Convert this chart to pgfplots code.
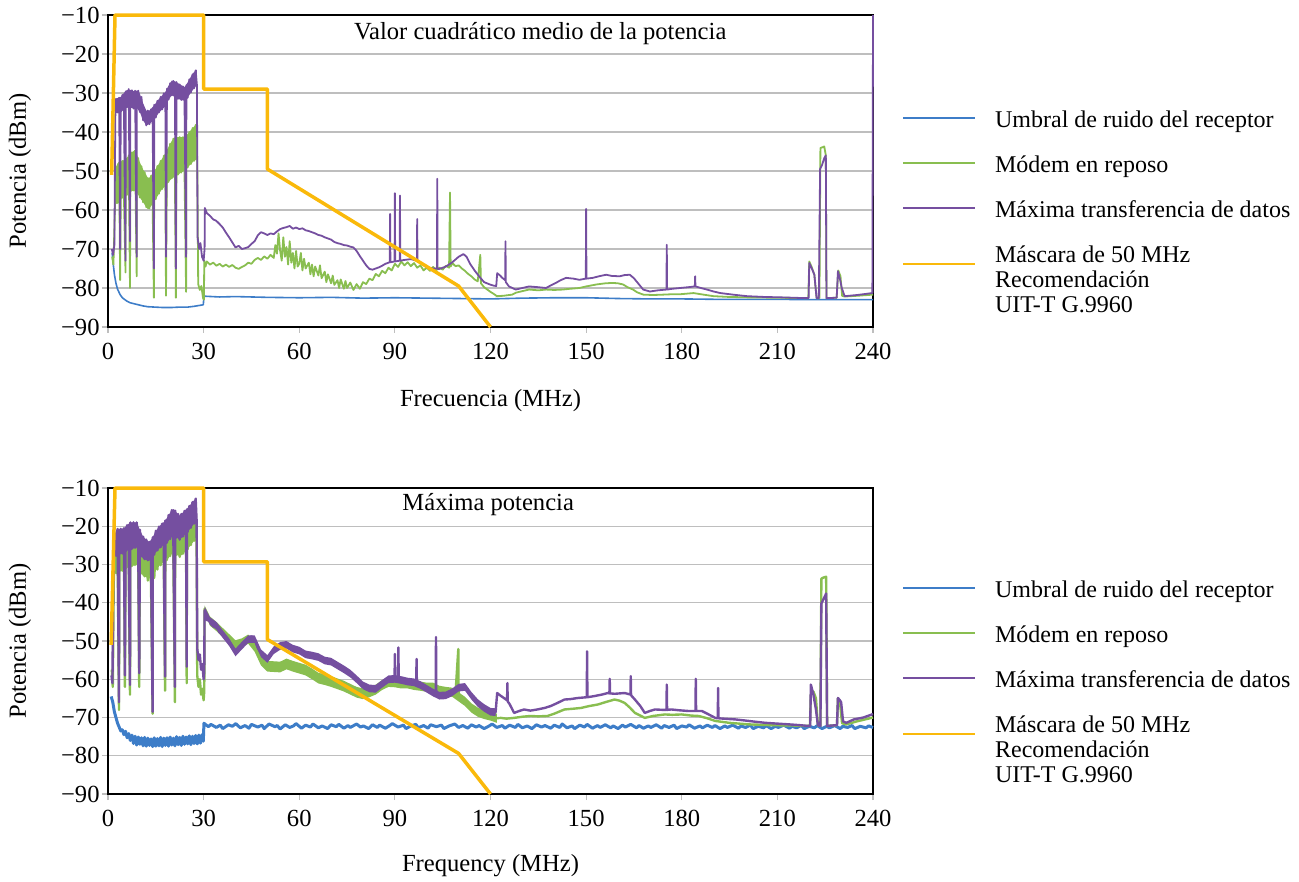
\documentclass[border=0pt]{standalone}
\usepackage{pgfplots}
\pgfplotsset{compat=1.18}
\usepackage{fontspec}
\setmainfont{Liberation Serif}
\definecolor{cblue}{RGB}{61,125,200}
\definecolor{cgreen}{RGB}{137,190,80}
\definecolor{cpurple}{RGB}{117,79,160}
\definecolor{cmask}{RGB}{250,185,10}
\definecolor{gridc}{RGB}{190,190,190}
\pgfplotsset{
  spec/.style={
    scale only axis, width=382.5pt,
    xmin=0, xmax=240, ymin=-90, ymax=-10,
    xtick={0,30,...,240}, xticklabels={0,30,60,90,120,150,180,210,240},
    ytick={-90,-80,...,-10}, yticklabels={−90,−80,−70,−60,−50,−40,−30,−20,−10},
    tick align=outside, xtick pos=bottom, ytick pos=left,
    major tick length=3pt,
    tick style={gridc, line width=0.6pt},
    ymajorgrids, grid style={gridc, line width=0.6pt},
    axis line style={black, line width=0.8pt},
    clip=false,
    every axis plot/.append style={line join=round},
    ticklabel style={font=\fontsize{12.3}{12.8}\selectfont},
    yticklabel style={inner sep=1pt},
    xticklabel style={inner sep=5pt},
    label style={font=\fontsize{12.3}{12.8}\selectfont},
    ylabel={Potencia (dBm)},
    ylabel style={at={(axis description cs:-0.115,0.5)}, anchor=center},
    legend cell align=left,
    legend style={draw=none, fill=none, inner sep=0pt, anchor=north west,
      font=\fontsize{12}{12.5}\selectfont, row sep=10.5pt,
      nodes={text height=9pt, text depth=3pt, inner sep=0pt},
      cells={anchor=base west},
      /tikz/every odd column/.append style={column sep=9.5pt}},
    legend image code/.code={\draw[#1, line width=1pt] (0pt,4.5pt) -- (36pt,4.5pt);},
    band/.style={draw=none, forget plot},
    masklegend/.style={legend image code/.code={\draw[#1, line width=1pt] (0pt,-1pt) -- (36pt,-1pt);}},
  },
}
\begin{document}
\begin{tikzpicture}
\useasboundingbox (0,0) rectangle (649.5pt,441pt);
% ---------------- TOP ----------------
\begin{axis}[spec, at={(54pt,277.5pt)}, anchor=south west, height=156pt,
  xlabel={Frecuencia (MHz)},
  xlabel style={at={(axis description cs:0.5,-0.236)}, anchor=center},
  legend style={at={(rel axis cs:1.0375,0.700)}}]
\addplot[cblue, line width=0.8pt] coordinates {
(1.3,-71) (1.6,-73.5) (2,-76.5) (2.5,-78.8) (3,-80.3) (3.8,-81.7) (4.5,-82.5) (5.3,-83) (6,-83.4) (7,-83.8) (8,-84) (9.5,-84.3) (11,-84.6) (12.5,-84.8) (14.7,-84.9) (17,-85) (20,-85) (22.5,-84.9) (25,-84.9) (27,-84.7) (29.9,-84.3)
(30.1,-82.1) (35,-82.3) (40,-82.2) (50,-82.4) (60,-82.5) (70,-82.4) (80,-82.6) (90,-82.5) (100,-82.6) (110,-82.7) (120,-82.8) (130,-82.6) (140,-82.5) (150,-82.5) (160,-82.7) (170,-82.8) (180,-82.8) (190,-82.9) (200,-82.9) (210,-82.9) (220,-83) (230,-83) (240,-83)};
\addlegendentry{Umbral de ruido del receptor}
\addplot[band, fill=cgreen] coordinates {
(2.5,-49) (3,-48) (4,-47.6) (5,-47.2) (6,-46.5) (7,-45.6) (8,-44.9) (8.5,-44.7) (9,-45.7) (10,-47.8) (11,-49.6) (12,-51) (12.5,-51.8) (13,-51.7) (14,-50.6) (15,-49.4) (16,-48.1) (17,-46.8) (18,-45.4) (19,-43.8) (20,-42.3) (21,-41.3) (22,-41.3) (23,-41.3) (24,-41.3) (25,-40.5) (26,-39.5) (27,-38.6) (28,-38)
(28,-47) (27,-47.4) (26,-48.2) (25,-49.1) (24,-49.9) (23,-50.4) (22,-50.9) (21,-51.5) (20,-51.9) (19,-52.8) (18,-53.9) (17,-54.6) (16,-55.8) (15,-57.2) (14,-58.4) (13,-59.6) (12.5,-59.8) (12,-59.3) (11,-58) (10,-56.8) (9,-55.5) (8,-55) (7,-55.4) (6,-56.1) (5,-56.7) (4,-57.4) (3,-58.2) (2.5,-58.5)};
\addplot[cgreen, line width=0.9pt] coordinates {
(1.3,-72) (1.7,-74) (2.1,-62) (2.5,-49) (3.0,-58.2) (3.5,-47.8) (3.8,-78) (4.0,-57.4) (4.5,-47.4) (5.0,-56.7) (5.5,-76) (5.55,-47) (6.0,-56.1) (6.5,-46) (6.9,-80) (7.0,-55.4) (7.5,-45.2) (8.0,-55) (8.5,-44.7) (9.0,-77) (9.05,-55.5) (9.5,-46.7) (10.0,-56.8) (10.5,-48.8) (11.0,-58) (11.5,-50.3) (12.0,-59.3) (12.5,-51.8) (13.0,-59.6) (13.5,-51.2) (14.0,-58.4) (14.4,-82.5) (14.5,-50) (15.0,-57.2) (15.5,-48.7) (16.0,-55.8) (16.5,-47.4) (17.0,-54.6) (17.5,-46.1) (18.0,-53.9) (18.2,-82) (18.5,-44.6) (19.0,-52.8) (19.5,-43) (20.0,-51.9) (20.5,-41.7) (21.0,-51.5) (21.3,-82.5) (21.5,-41.3) (22.0,-50.9) (22.5,-41.3) (23.0,-50.4) (23.5,-41.3) (24.0,-49.9) (24.5,-81) (24.6,-41) (25.0,-49.1) (25.5,-40) (26.0,-48.2) (26.5,-39) (27.0,-47.4) (27.5,-38.2) (28.0,-47) (28.3,-79) (28.8,-80.5) (29.3,-79.5) (29.8,-82.5) (30.1,-83)
(30.2,-73) (30.6,-74.5) (31,-73.2) (32,-74) (33,-73.5) (34,-74.3) (35,-73.8) (36,-74.5) (37,-74) (38,-74.6) (39,-74.1) (40,-74.8) (41,-75.1) (42,-74.6) (43,-74.2) (44,-73.5) (45,-73.8) (46,-72.8) (47,-72.3) (48,-72.8) (49,-71.9) (50,-72.5) (51,-71.5) (52,-72.3) (52.5,-69) (53,-71.2) (53.5,-66) (54,-70.4) (54.5,-73) (55,-67) (55.5,-72) (56,-69.5) (56.5,-74) (57,-68) (57.5,-73.5) (58,-71) (58.5,-75) (59,-70.5) (59.5,-74.5) (60,-73.8) (60.5,-71) (61,-75.5) (61.5,-72.5) (62,-75) (63,-73.5) (63.5,-76.5) (64,-74) (64.5,-77) (65,-74.5) (66,-76.8) (66.5,-74.2) (67,-77.5) (68,-75.8) (68.5,-78.5) (69,-76.5) (70,-78.8) (70.5,-76.8) (71,-79.2) (72,-78) (72.5,-80) (73,-77.8) (74,-80.2) (74.5,-78.2) (75,-80) (76,-78.6) (77,-80.5) (78,-79) (79,-80.2) (80,-78.5) (81,-79) (82,-77.6) (83,-78) (84,-76.4) (85,-77) (86,-75.6) (87,-76.2) (88,-74.8) (89,-75.5) (90,-73.8) (91,-74.6) (92,-73.2) (93,-74.2) (94,-73.4) (95,-74.4) (96,-73.6) (97,-74.8) (98,-74.2) (99,-75.5) (100,-74.8) (101,-75.6) (102,-74.6) (103,-75.4) (104,-74.8) (105,-75.3) (106,-74.3) (107,-74.8) (107.3,-55.5) (107.5,-74.5) (108,-73.6) (109,-74.4) (110,-74.2) (111,-75) (112,-75.6) (113,-76.4) (114,-77) (115,-77.8) (116,-78.3) (116.8,-71.5) (117,-78.8) (118,-79.8) (119,-80.4) (120,-81) (121,-81.5) (122,-82.1) (124,-82) (126.8,-81.7) (128,-81.2) (130,-80.8) (132.1,-80.4) (135,-80.6) (137.4,-80.4) (140,-80.5) (142.6,-80.4) (145,-80.2) (147.9,-80) (150,-79.6) (153.2,-79.1) (156,-78.8) (158.4,-78.7) (160,-78.8) (161.6,-79.1) (163,-79.8) (164.7,-80.4) (166,-81.1) (167.9,-81.7) (171,-81.8) (174.2,-81.7) (177,-81.6) (179.5,-81.6) (183.7,-81.3) (186,-81.6) (190,-82.1) (195,-82.3) (200.5,-82.4) (210,-82.5) (219,-82.6) (219.7,-82.6) (220,-73.2) (220.7,-74.5) (221.6,-76.6) (222.3,-82.6) (223.2,-82.6) (223.5,-44.1) (224.2,-43.9) (224.7,-43.7) (225.2,-46) (225.4,-82.6) (228.6,-82.5) (229.1,-75.5) (229.8,-77) (230.3,-82) (231,-82.2) (235,-82) (240,-81.7)};
\addlegendentry{Módem en reposo}
\addplot[band, fill=cpurple] coordinates {
(2.3,-31.5) (3,-31.3) (4,-31) (5,-30) (6,-29.2) (7,-29.2) (8,-29.5) (9,-29.4) (9.5,-29.4) (10,-30.2) (11,-32.6) (12,-34.5) (13,-34.5) (14,-33.6) (15,-32.6) (16,-31.5) (17,-30.6) (18,-29.7) (19,-28.1) (20,-26.8) (21,-27) (22,-27.5) (23,-28) (24,-28.5) (25,-27.3) (26,-25.8) (27,-24.6) (27.9,-24)
(27.9,-28) (27,-28.8) (26,-29.9) (25,-31.2) (24,-32) (23,-31.8) (22,-31.5) (21,-31) (20,-30.6) (19,-31.7) (18,-33.4) (17,-34.2) (16,-35) (15,-36.3) (14,-37.2) (13,-38) (12,-38.3) (11,-37) (10,-34.9) (9,-33.8) (8,-34) (7,-33.7) (6,-33.6) (5,-34.2) (4,-35) (3,-35) (2.3,-35.2)};
\addplot[cpurple, line width=0.9pt] coordinates {
(1.2,-70) (1.6,-71.5) (2.0,-69) (2.3,-36) (2.5,-31.5) (3.0,-35) (3.5,-31.2) (3.8,-70) (4.0,-35) (4.5,-30.5) (5.0,-34.2) (5.5,-73) (5.55,-29.6) (6.0,-33.6) (6.5,-29) (6.9,-68) (7.0,-33.7) (7.5,-29.3) (8.0,-34) (8.5,-29.4) (9.0,-72) (9.05,-33.8) (9.5,-29.4) (10.0,-34.9) (10.5,-31) (11.0,-37) (11.5,-34.3) (12.0,-38.3) (12.5,-34.5) (13.0,-38) (13.5,-34.2) (14.0,-37.2) (14.4,-75) (14.5,-33) (15.0,-36.3) (15.5,-32) (16.0,-35) (16.5,-31) (17.0,-34.2) (17.5,-30.1) (18.0,-33.4) (18.2,-72) (18.5,-28.9) (19.0,-31.7) (19.5,-27.5) (20.0,-30.6) (20.5,-26.9) (21.0,-31) (21.3,-75) (21.5,-27.2) (22.0,-31.5) (22.5,-27.8) (23.0,-31.8) (23.5,-28.3) (24.0,-32) (24.5,-72) (24.6,-28) (25.0,-31.2) (25.5,-26.5) (26.0,-29.9) (26.5,-25.2) (27.0,-28.8) (27.5,-24.2) (27.9,-28) (28.1,-67) (28.6,-70) (29.0,-68.5) (29.5,-72) (30.0,-73) (30.3,-70)
(30.4,-59.5) (31,-60.8) (32,-61.5) (33,-62.4) (34,-62.8) (35,-63.6) (36,-64.5) (37,-65.8) (38,-67) (39,-68.3) (40,-69.6) (41,-69.2) (42,-70) (43,-69.8) (44,-69.5) (45,-68.7) (46,-68) (47,-66.5) (48,-65.7) (49,-66) (50,-66.4) (51,-66) (52,-66.2) (53,-65.5) (54,-64.9) (55,-64.6) (56,-64.4) (57,-64.1) (58,-64.8) (59,-64.5) (60,-64.9) (61,-64.7) (62,-65.2) (63,-65.4) (64,-65.7) (65,-66) (66,-66.4) (67,-66.6) (68,-67) (69,-67.3) (70,-67.6) (71,-68.2) (72,-68.5) (73,-68.7) (74,-69) (75,-69.1) (76,-69.4) (77,-69.6) (78,-70.5) (79,-71.8) (80,-73) (81,-74.2) (82,-75.1) (83,-75.3) (84,-75) (85,-74.7) (86,-74.3) (87,-73.8) (88.4,-73.4) (88.5,-61) (88.6,-73.4) (89.9,-73.2) (90,-55.7) (90.1,-73.2) (91.5,-73) (91.6,-56.3) (91.7,-73) (93,-72.8) (95,-72.6) (96.9,-73) (97,-62.3) (97.1,-73.2) (98,-73.5) (100,-74.7) (102,-75) (103.2,-75) (103.3,-52) (103.4,-75.1) (104,-75.1) (106,-74.5) (108,-73.4) (110,-72) (111.5,-71.3) (112.5,-72) (113.6,-73.8) (115,-75.5) (116.7,-77.3) (118,-78.5) (119.8,-79.1) (121,-79.4) (121.8,-79.5) (122.1,-76.2) (123,-76.8) (123.7,-77.4) (124.6,-78) (124.7,-68) (124.8,-78.5) (125.8,-79.6) (127.9,-80.4) (130,-80) (132.1,-79.6) (135,-79.8) (137.4,-80) (139,-79.3) (140.5,-78.7) (142,-78) (143.7,-77.4) (146,-77.6) (147.9,-77.9) (149.9,-77.6) (150,-59.7) (150.1,-77.6) (152.1,-77.4) (154,-77) (156.3,-76.6) (158,-76.9) (160.5,-77) (162,-76.7) (163.7,-76.6) (165,-77.5) (165.8,-78.3) (167,-79.5) (167.9,-80.4) (170,-80.9) (172.5,-80.6) (175.2,-80.4) (175.3,-68.9) (175.4,-80.4) (177,-80.2) (179.5,-80) (182,-79.8) (184.1,-79.6) (184.2,-77) (184.3,-79.6) (186,-80) (187.9,-80.4) (190,-80.9) (192.1,-81.3) (196,-81.7) (200.5,-82.1) (206,-82.3) (211.1,-82.4) (215,-82.5) (219,-82.6) (219.8,-82.6) (220,-73.6) (220.8,-75) (221.6,-76.6) (222.3,-82.6) (223,-82.6) (223.4,-49.5) (224,-48.5) (224.7,-46.7) (225.2,-46) (225.4,-82.6) (228.6,-82.5) (229,-75.7) (229.7,-78) (230.2,-80) (231.1,-82.1) (235,-81.8) (239.8,-81.3) (240,-10)};
\addlegendentry{Máxima transferencia de datos}
\addplot[cmask, line width=1.75pt, masklegend] coordinates {
(1.15,-51) (2.2,-10) (30,-10) (30,-29) (50,-29) (50,-49.5) (110,-79.5) (120,-90)};
\addlegendentry{\begin{tabular}[t]{@{}l@{}}Máscara de 50 MHz\\Recomendación\\UIT-T G.9960\end{tabular}}
\node[font=\fontsize{12.3}{12.8}\selectfont] at (rel axis cs:0.565,0.942) {Valor cuadrático medio de la potencia};
\end{axis}
% ---------------- BOTTOM ----------------
\begin{axis}[spec, at={(54pt,44pt)}, anchor=south west, height=153pt,
  xlabel={Frequency (MHz)},
  xlabel style={at={(axis description cs:0.5,-0.234)}, anchor=center},
  legend style={at={(rel axis cs:1.0375,0.7026)}}]
\addplot[cblue, line width=1.5pt] coordinates {
(1.0,-64.5) (1.5,-66) (2.0,-68.5) (2.5,-70) (3.0,-71.5) (3.5,-72.5) (4.0,-73.5) (4.5,-73.2) (5.0,-74.5) (5.5,-73.6) (6.0,-75.3) (6.5,-74.2) (7.0,-76)
(7.5,-74.6) (8,-76.8) (8.5,-74.9) (9,-77.2) (9.5,-75.1) (10,-77) (10.5,-75.3) (11,-77.4) (11.5,-75.2) (12,-77.5) (12.5,-75.4) (13,-77.3) (13.5,-75.6) (14,-77.6) (14.5,-75.3) (15,-77.5) (15.5,-75.5) (16,-77.4) (16.5,-75.2) (17,-77.6) (17.5,-75.4) (18,-77.3) (18.5,-75.3) (19,-77.5) (19.5,-75.1) (20,-77.2) (20.5,-75.4) (21,-77.4) (21.5,-75) (22,-77.1) (22.5,-75.2) (23,-77.3) (23.5,-74.9) (24,-77) (24.5,-75.1) (25,-76.9) (25.5,-74.8) (26,-77.1) (26.5,-74.9) (27,-76.8) (27.5,-74.7) (28,-76.9) (28.5,-74.6) (29,-76.7) (29.5,-74.5) (29.9,-76.2)
(30.1,-71.5) (31.5,-72.4) (32.3,-71.8) (34,-72.6) (35.2,-72) (36,-72.9) (37.8,-71.9) (39,-72.3) (40.1,-71.6) (41.5,-72.7) (43,-72.1) (44.2,-72.8) (45,-71.8) (47,-72.5) (48.3,-72) (49,-72.9) (50.5,-71.7) (52.4,-72.4) (53.1,-72.1) (54,-73) (55.6,-71.9) (57,-72.6) (58.2,-72.2) (59,-71.6) (60.7,-72.8) (62,-72) (63.5,-72.5) (64.3,-71.7) (66,-72.7) (67.2,-72.2) (68.9,-72.9) (70,-71.9) (71.6,-72.4) (72.4,-71.8) (74,-72.8) (75.3,-72.1) (76,-72.6) (78,-71.7) (79.2,-72.5) (80.1,-72.2) (81.8,-72.9) (83,-71.9) (84.5,-72.6) (85.2,-72) (87,-72.8) (88.4,-72.1) (89.2,-71.6) (91,-72.5) (92.7,-72) (93.5,-72.9) (95,-72.2) (96.6,-71.8) (97.3,-72.7) (99,-72.1) (100.4,-72.8) (101.2,-71.9) (103,-72.4) (104.6,-72) (105.4,-72.9) (107,-72.2) (108.8,-71.7) (110,-72.6) (111.3,-72.1) (112.9,-72.8) (114,-71.9) (115.5,-72.5) (116.4,-72.1) (118,-72.9) (119.6,-72.2) (120.5,-71.7) (122,-72.6) (123.7,-72.1) (124.5,-72.8) (126,-72) (127.8,-72.6) (128.6,-71.8) (130,-72.7) (131.5,-72.2) (133,-72.9) (134.4,-71.9) (136,-72.5) (137.1,-72.1) (138.9,-72.8) (140,-72) (141.7,-72.6) (142.5,-71.7) (144,-72.7) (145.6,-72.2) (146.4,-72.9) (148,-72) (149.5,-72.5) (150.3,-71.8) (152,-72.8) (153.6,-72.1) (154.4,-72.6) (156,-71.9) (157.7,-72.7) (158.5,-72.2) (160,-72.9) (161.4,-72) (162.3,-72.5) (164,-71.8) (165.8,-72.7) (166.6,-72.1) (168,-72.8) (169.5,-72.2) (170.3,-72.6) (172,-71.9) (173.7,-72.8) (174.5,-72.1) (176,-72.6) (177.6,-72) (178.4,-72.9) (180,-72.2) (181.5,-72.5) (182.3,-71.9) (184,-72.8) (185.7,-72.2) (186.5,-72.7) (188,-72) (189.6,-72.6) (190.4,-72.1) (192,-72.9) (193.5,-72.2) (194.3,-72.6) (196,-72) (197.8,-72.8) (198.6,-72.2) (200,-72.6) (201.5,-72) (202.4,-72.9) (204,-72.3) (205.7,-72.7) (206.5,-72.1) (208,-72.9) (209.4,-72.3) (210.3,-72.6) (212,-72) (213.8,-72.8) (214.6,-72.3) (216,-72.7) (217.5,-72.1) (218.4,-72.9) (220,-72.3) (221.6,-72.7) (222.5,-72.1) (224,-72.9) (225.5,-72.3) (226.3,-72.7) (228,-72.1) (229.7,-72.9) (230.5,-72.3) (232,-72.6) (233.4,-72.1) (234.3,-72.9) (236,-72.3) (237.8,-72.7) (238.6,-72.2) (240,-72.6)};
\addlegendentry{Umbral de ruido del receptor}
\addplot[band, fill=cgreen] coordinates {
(1.9,-27) (2.5,-24.5) (3,-24.2) (4,-24.2) (5,-24) (6,-23.2) (7,-22.5) (8,-22.5) (9,-22.5) (10,-24.4) (11,-26.2) (12,-27) (13,-27.6) (14,-26.4) (15,-24.7) (16,-23.6) (17,-22.8) (18,-22) (19,-20.6) (20,-19.3) (21,-19.4) (22,-20.3) (23,-20.3) (24,-19.5) (25,-18.7) (26,-17.7) (27,-16.7) (27.8,-16)
(27.8,-23) (27,-23.8) (26,-24.9) (25,-26) (24,-26.8) (23,-27.6) (22,-27.7) (21,-27.2) (20,-27.3) (19,-28.3) (18,-29.1) (17,-29.7) (16,-30.4) (15,-31.3) (14,-32.5) (13,-33.5) (12,-33.3) (11,-33) (10,-31.6) (9,-30) (8,-30.3) (7,-30.5) (6,-30.9) (5,-31.4) (4,-31.8) (3,-32.1) (2.5,-32.2) (1.9,-32)};
\addplot[band, fill=cgreen] coordinates {
(30.3,-40.7) (32,-43.6) (34,-45) (36,-46.6) (38,-48.2) (40,-49.8) (42,-49.3) (44,-48.3) (46,-50.4) (48,-53.8) (50,-55.2) (52,-55.3) (54,-55.4) (56,-54.6) (58,-55.2) (60,-55.7) (62,-56.2) (64,-57.2) (66,-58.3) (68,-58.7) (70,-59.2) (72,-59.8) (74,-60.4) (76,-61.2) (78,-62) (80,-62.4) (82,-62.1) (84,-61.4) (86,-60.2) (88,-59.6) (90,-59.7) (92,-60) (94,-60) (96,-60.4) (98,-60.6) (100,-60.9) (102,-60.9) (104,-61.7) (106,-62) (108,-62.2) (110,-63.4) (112,-64.6) (114,-66.3) (116,-67.4) (118,-68) (120,-68.4) (122,-69)
(122,-71.4) (120,-70.8) (118,-70.4) (116,-69.8) (114,-68.7) (112,-67) (110,-65.8) (108,-64.6) (106,-64.4) (104,-64.1) (102,-63.3) (100,-63.3) (98,-63) (96,-62.8) (94,-62.4) (92,-62.4) (90,-62.1) (88,-62) (86,-62.8) (84,-64) (82,-64.7) (80,-65.2) (78,-64.8) (76,-64) (74,-63.2) (72,-62.6) (70,-62) (68,-61.5) (66,-61.1) (64,-60) (62,-59) (60,-58.5) (58,-58) (56,-57.4) (54,-58.2) (52,-58.1) (50,-58) (48,-56.4) (46,-52.8) (44,-50.7) (42,-51.7) (40,-52.2) (38,-50.6) (36,-49) (34,-47.4) (32,-46) (30.3,-42.8)};
\addplot[cgreen, line width=1.2pt] coordinates {
(1.2,-57.5) (1.5,-62) (1.8,-35) (2.0,-27) (2.5,-32.2) (3.0,-24.2) (3.45,-68) (3.5,-32) (4.0,-24.2) (4.5,-31.6) (5.0,-24) (5.3,-62) (5.5,-31.2) (6.0,-23.2) (6.5,-30.7) (6.9,-64) (7.0,-22.5) (7.5,-30.4) (8.0,-22.5) (8.5,-30.1) (9.0,-22.5) (9.5,-30.8) (9.8,-62) (10.0,-24.4) (10.5,-32.3) (11.0,-26.2) (11.5,-33.1) (12.0,-27.5) (12.5,-34.2) (13.0,-28.5) (13.5,-35) (14.0,-69) (14.05,-28) (14.5,-33.5) (15.0,-25.7) (15.5,-31.3) (16.0,-23.8) (16.5,-30.2) (17.0,-22.8) (17.5,-29.4) (17.9,-63) (18.0,-22) (18.5,-28.8) (19.0,-20.6) (19.5,-27.8) (20.0,-19.3) (20.5,-27) (21.0,-66) (21.05,-19.4) (21.5,-27.4) (22.0,-20.3) (22.5,-28) (23.0,-20.3) (23.5,-27.2) (24.0,-19.5) (24.5,-26.4) (24.7,-61) (24.75,-19.1) (25.0,-26) (25.5,-18.2) (26.0,-24.9) (26.5,-17.2) (27.0,-23.8) (27.5,-16.3) (27.8,-23) (28.0,-59) (28.4,-62) (28.8,-60) (29.2,-64) (29.6,-62.5) (30.0,-65.5) (30.2,-63)
(30.3,-41.6) (31,-43.5) (32,-44.8) (33,-45.5) (34,-46.2) (35,-46.8) (36,-47.8) (37,-48.6) (38,-49.4) (39,-50.3) (40,-51) (41,-51.2) (42,-50.5) (43,-50) (44,-49.5) (45,-50.2) (46,-51.6) (47,-53.5) (48,-55.2) (49,-56.4) (50,-56.8) (51,-56.5) (52,-56.9) (53,-56.6) (54,-57) (55,-56.4) (56,-56.2) (57,-56.6) (58,-56.8) (59,-57) (60,-57.3) (61,-57.5) (62,-57.8) (63,-58.3) (64,-58.8) (65,-59.3) (66,-59.9) (67,-60.2) (68,-60.3) (69,-60.6) (70,-60.8) (71,-61.2) (72,-61.4) (73,-61.7) (74,-62) (75,-62.3) (76,-62.8) (77,-63.2) (78,-63.6) (79,-63.9) (80,-64) (81,-63.8) (82,-63.5) (83,-63.4) (84,-62.8) (85,-62.2) (86,-61.6) (87,-61.2) (88,-60.8) (89,-60.8) (90,-60.9) (91,-61) (92,-61.2) (93,-61.3) (94,-61.2) (95,-61.4) (96,-61.6) (97,-61.7) (98,-61.8) (99,-62) (100,-62.1) (101,-62.2) (102,-62.1) (103,-62.6) (104,-62.9) (105,-63.1) (106,-63.2) (107,-63.4) (108,-63.4) (109,-64) (109.9,-52.1) (110,-64.6) (111,-65.2) (112,-65.8) (113,-66.8) (114,-67.5) (115,-68.2) (116,-68.6) (117,-68.8) (118,-69.2) (119,-69.4) (120,-69.6) (121,-70) (122,-70.2) (123.2,-70.1) (125,-70.3) (127.4,-70.1) (130,-69.8) (132.6,-69.6) (135,-69.7) (137.9,-69.6) (140,-69) (143.2,-67.9) (146,-67.7) (148.4,-67.5) (151,-67) (153.7,-66.6) (156,-66) (158.9,-65.3) (160.5,-65.6) (162.1,-66.2) (163.7,-67.4) (165.3,-68.8) (167,-69.5) (168.4,-70.1) (171,-69.6) (174.7,-69.2) (177,-69.3) (180,-69.2) (183,-69.5) (185.3,-69.6) (188,-70.2) (190.5,-70.9) (195,-71.4) (201,-71.8) (208,-72) (215,-72.1) (219.5,-72.2) (220.2,-72.2) (220.5,-64) (221.3,-63.2) (222.1,-65) (222.7,-72) (223.5,-72.2) (223.8,-33.7) (224.5,-33.4) (225.3,-33.2) (225.6,-72.2) (228.7,-72) (229,-65) (229.6,-65.8) (230.3,-71.5) (231.6,-71.8) (235,-71) (240,-70)};
\addlegendentry{Módem en reposo}
\addplot[band, fill=cpurple] coordinates {
(1.8,-23.3) (2.5,-21) (3,-20.7) (4,-20.7) (5,-20.5) (6,-19.7) (7,-19) (8,-19) (9,-19) (10,-20.9) (11,-22.7) (12,-23.5) (13,-24.1) (14,-22.9) (15,-21.2) (16,-20.1) (17,-19.3) (18,-18.5) (19,-17.1) (20,-15.8) (20.5,-15.5) (21,-15.9) (22,-16.8) (22.5,-17.2) (23,-16.8) (24,-16) (25,-15.2) (26,-14.2) (27,-13.2) (27.8,-12.5)
(27.8,-18.5) (27,-19.3) (26,-20.4) (25,-21.5) (24,-22.3) (23,-23.1) (22.5,-23.5) (22,-23.2) (21,-22.7) (20,-22.8) (19,-23.8) (18,-24.6) (17,-25.2) (16,-25.9) (15,-26.8) (14,-28) (13,-29) (12,-28.8) (11,-28.5) (10,-27.1) (9,-25.5) (8,-25.8) (7,-26) (6,-26.4) (5,-26.9) (4,-27.3) (3,-27.6) (2.5,-27.7) (1.8,-28)};
\addplot[band, fill=cpurple] coordinates {
(30.3,-41) (32,-43.8) (34,-45) (36,-47.2) (38,-49.3) (40,-52) (42,-50.2) (44,-48.5) (46,-48.5) (48,-52.2) (50,-53.7) (52,-51.4) (54,-50.3) (56,-50) (58,-51) (60,-51.5) (62,-52.5) (64,-52.8) (66,-53.2) (68,-54.1) (70,-54.4) (72,-55.4) (74,-56.4) (76,-57.5) (78,-59) (80,-60.6) (82,-61.4) (84,-61.5) (86,-60.2) (88,-59) (90,-58.9) (92,-59.2) (94,-59.6) (96,-59.8) (98,-60.5) (100,-61.5) (102,-62.5) (104,-63.3) (106,-63.2) (108,-62.4) (110,-61.2) (112,-61) (114,-63.3) (116,-65.2) (118,-66.5) (120,-67.5) (121.6,-67.6)
(121.6,-69.6) (120,-69.5) (118,-68.5) (116,-67.2) (114,-65.3) (112,-63) (110,-63.2) (108,-64.4) (106,-65.2) (104,-65.3) (102,-64.5) (100,-63.5) (98,-62.5) (96,-61.8) (94,-61.6) (92,-61.2) (90,-60.9) (88,-61) (86,-62.2) (84,-63.5) (82,-63.4) (80,-62.6) (78,-61) (76,-59.5) (74,-58.4) (72,-57.4) (70,-56.4) (68,-56.1) (66,-55.2) (64,-54.8) (62,-54.5) (60,-53.5) (58,-53) (56,-52) (54,-52.3) (52,-53.4) (50,-55.7) (48,-54.2) (46,-50.5) (44,-50.5) (42,-52.2) (40,-54) (38,-51.3) (36,-49.2) (34,-47) (32,-45.8) (30.3,-43)};
\addplot[cpurple, line width=1.2pt] coordinates {
(1.1,-59) (1.4,-61) (1.7,-28) (2.0,-23.3) (2.5,-27.7) (3.0,-20.7) (3.45,-66) (3.5,-27.5) (4.0,-20.7) (4.5,-27.1) (5.0,-20.5) (5.3,-59) (5.5,-26.7) (6.0,-19.7) (6.5,-26.2) (6.9,-61.5) (7.0,-19) (7.5,-25.9) (8.0,-19) (8.5,-25.6) (9.0,-19) (9.5,-26.3) (9.8,-58.4) (10.0,-20.9) (10.5,-27.8) (11.0,-22.7) (11.5,-28.6) (12.0,-23.5) (12.5,-28.9) (13.0,-24.1) (13.5,-28.6) (14.0,-68.5) (14.05,-22.9) (14.5,-27.4) (15.0,-21.2) (15.5,-26.3) (16.0,-20.1) (16.5,-25.5) (17.0,-19.3) (17.5,-24.9) (17.9,-59.3) (18.0,-18.5) (18.5,-24.3) (19.0,-17.1) (19.5,-23.3) (20.0,-15.8) (20.5,-22.5) (21.0,-62) (21.05,-15.9) (21.5,-22.9) (22.0,-16.8) (22.5,-23.5) (23.0,-16.8) (23.5,-22.7) (24.0,-16) (24.5,-21.9) (24.7,-56.7) (24.75,-15.6) (25.0,-21.5) (25.5,-14.7) (26.0,-20.4) (26.5,-13.7) (27.0,-19.3) (27.5,-12.8) (27.8,-18.5) (28.0,-52) (28.4,-55) (28.8,-53.5) (29.2,-57.5) (29.6,-56) (30.0,-60) (30.2,-58)
(30.3,-42) (31,-44.5) (32,-44.8) (33,-46.2) (34,-46) (35,-47.7) (36,-48.2) (37,-49.5) (38,-50.3) (39,-51.5) (40,-53) (41,-52.5) (42,-51.2) (43,-50.3) (44,-49.5) (45,-48.8) (46,-49.5) (47,-51.8) (48,-53.2) (49,-54.3) (50,-54.7) (51,-53.5) (52,-52.4) (53,-52.1) (54,-51.3) (55,-51.8) (56,-51) (57,-51.6) (58,-52) (59,-51.8) (60,-52.5) (61,-52.8) (62,-53.5) (63,-53.2) (64,-53.8) (65,-54.3) (66,-54.2) (67,-54.9) (68,-55.1) (69,-55.6) (70,-55.4) (71,-56) (72,-56.4) (73,-56.7) (74,-57.4) (75,-58) (76,-58.5) (77,-59.1) (78,-60) (79,-61) (80,-61.6) (81,-62.1) (82,-62.4) (83,-62.8) (84,-62.5) (85,-62) (86,-61.2) (87,-60.4) (88,-60) (89,-59.6) (89.9,-59.9) (90,-53.4) (90.1,-59.8) (91,-59.7) (91.1,-51.7) (91.2,-59.8) (92,-60.2) (93,-60) (94,-60.6) (95,-60.3) (96,-60.8) (96.7,-60.9) (96.8,-54.7) (96.9,-61) (98,-61.5) (99,-62) (100,-62.5) (101,-63) (102,-63.5) (102.8,-63.7) (102.9,-49) (103,-63.8) (104,-64.3) (105,-64) (106,-64.2) (107,-63.6) (108,-63.4) (109,-62.8) (110,-62.2) (111,-61.7) (112,-62) (113,-63) (114,-64.3) (115,-65) (116,-66.2) (117,-66.9) (118,-67.5) (119,-68) (120,-68.5) (121,-68.8) (121.6,-68.6) (122.1,-63.6) (123,-64.2) (124.2,-64.9) (125.2,-65.5) (125.3,-61) (125.4,-65.8) (126,-66.5) (127.4,-68.8) (129,-68.3) (130.5,-67.9) (132.5,-68.2) (134.7,-67.9) (137,-67.5) (138.9,-67) (141,-66.2) (143.2,-65.3) (145,-65.2) (147.4,-64.9) (150.2,-64.7) (150.3,-52.7) (150.4,-64.7) (152.6,-64.4) (155,-64) (156.8,-63.6) (157.3,-63.7) (157.4,-59.9) (157.5,-63.7) (159,-63.8) (162.1,-63.6) (163.9,-64) (164,-59.2) (164.1,-64.2) (165.3,-65.3) (167,-67) (168.4,-68.8) (170,-68.3) (171.6,-67.9) (174,-68) (175.2,-68) (175.3,-61.4) (175.4,-68) (176.8,-67.9) (179,-68.1) (182.1,-68.3) (184.3,-68.3) (184.4,-59.9) (184.5,-68.3) (186.3,-68.3) (188,-69) (190.5,-70.1) (191.3,-70.2) (191.4,-62.3) (191.5,-70.2) (193,-70.3) (196.8,-70.5) (200,-70.8) (203,-71.1) (206.3,-71.4) (210,-71.6) (213.7,-71.8) (217,-72) (219.5,-72.2) (220.3,-72.2) (220.5,-61.4) (221.3,-64) (222.1,-67.9) (222.7,-72) (223.5,-72.2) (223.8,-40.2) (224.5,-39) (225.3,-37.6) (225.6,-72.2) (228.7,-72) (229,-64.9) (229.6,-65.5) (230,-66) (230.6,-71) (231.6,-71.4) (234,-70.5) (237,-70) (240,-69.1)};
\addlegendentry{Máxima transferencia de datos}
\addplot[cmask, line width=1.75pt, masklegend] coordinates {
(1.0,-51) (2.2,-10) (30,-10) (30,-29.3) (50,-29.3) (50,-49.6) (110,-79.4) (120,-90)};
\addlegendentry{\begin{tabular}[t]{@{}l@{}}Máscara de 50 MHz\\Recomendación\\UIT-T G.9960\end{tabular}}
\node[font=\fontsize{12.3}{12.8}\selectfont] at (rel axis cs:0.497,0.945) {Máxima potencia};
\end{axis}
\end{tikzpicture}
\end{document}
